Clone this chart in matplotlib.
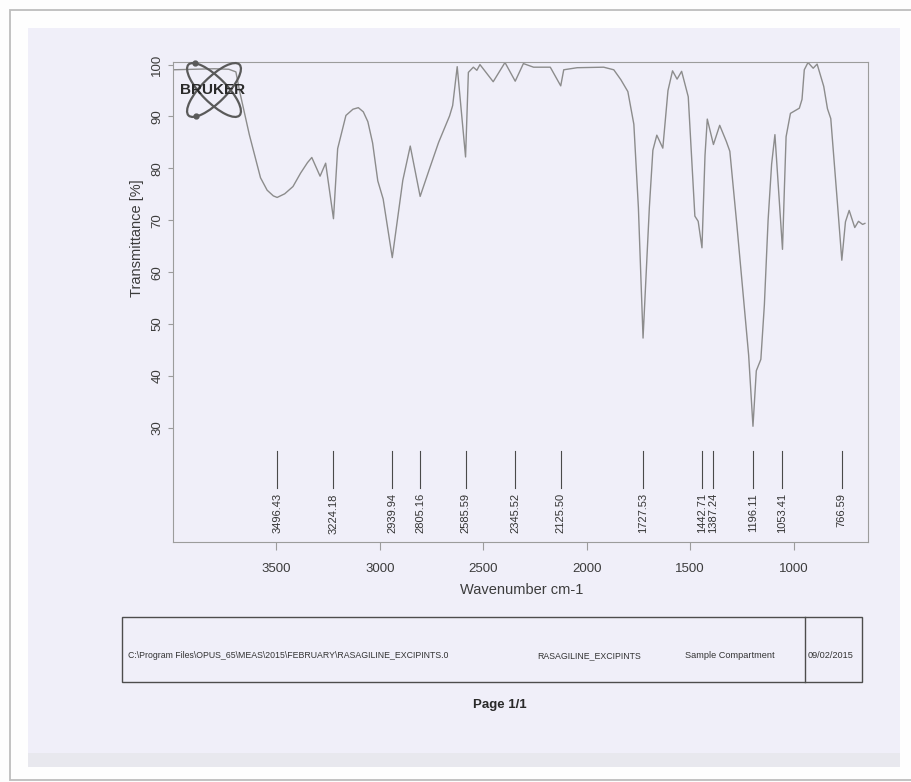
import matplotlib
matplotlib.use("Agg")
import matplotlib.pyplot as plt
from matplotlib.patches import Rectangle, Ellipse
from matplotlib.lines import Line2D

plt.rcParams["font.family"] = ["Liberation Sans", "DejaVu Sans"]

# IR trace: wavenumber (cm-1) and transmittance (%)
wavenumber = [4000, 3900, 3800, 3730, 3696, 3677, 3631, 3577, 3545, 3515,
              3496.43, 3460, 3420, 3383, 3350, 3329, 3289, 3262, 3224.18, 3204,
              3164, 3130, 3104, 3080, 3058, 3035, 3010, 2984, 2939.94, 2889,
              2853, 2805.16, 2761, 2716, 2663, 2648, 2626, 2585.59, 2572, 2548,
              2531, 2516, 2452, 2395, 2345.52, 2306, 2257, 2176, 2125.50, 2111,
              2046, 1918, 1869, 1835, 1801, 1772, 1750, 1727.53, 1697, 1680,
              1661, 1632, 1607, 1585, 1563, 1541, 1509, 1477, 1461, 1442.71,
              1428, 1417, 1387.24, 1357, 1325, 1308, 1274, 1239, 1217, 1196.11,
              1180, 1158, 1141, 1123, 1106, 1090, 1053.41, 1044, 1036, 1015,
              972, 959, 948, 930, 905, 886, 854, 836, 820, 788,
              766.59, 749, 731, 704, 686, 666, 655]
transmittance = [99.0, 99.1, 99.2, 99.1, 98.6, 94.7, 86.5, 78.2, 75.8, 74.7,
                 74.4, 75.1, 76.5, 79.1, 81.1, 82.1, 78.5, 81.0, 70.3, 83.8,
                 90.2, 91.4, 91.7, 90.9, 89.0, 84.9, 77.6, 74.1, 62.8, 77.7,
                 84.3, 74.6, 79.8, 85.0, 90.1, 92.1, 99.6, 82.2, 98.5, 99.5,
                 98.9, 100.0, 96.7, 100.4, 96.8, 100.2, 99.5, 99.5, 95.9, 99.0,
                 99.4, 99.5, 99.0, 97.1, 94.8, 88.5, 72.4, 47.3, 72.5, 83.5,
                 86.4, 83.9, 95.0, 98.8, 97.2, 98.7, 93.8, 70.8, 69.8, 64.7,
                 82.5, 89.5, 84.6, 88.3, 85.2, 83.3, 69.1, 53.7, 44.0, 30.3,
                 41.0, 43.2, 53.7, 70.0, 80.8, 86.5, 64.4, 76.4, 86.1, 90.6,
                 91.6, 93.3, 99.0, 100.4, 99.3, 100.1, 95.8, 91.5, 89.6, 73.4,
                 62.3, 69.7, 71.9, 68.6, 69.8, 69.2, 69.4]

# picked band positions
peak_positions = [3496.43, 3224.18, 2939.94, 2805.16, 2585.59, 2345.52, 2125.50,
                  1727.53, 1442.71, 1387.24, 1196.11, 1053.41, 766.59]

x_ticks = [3500, 3000, 2500, 2000, 1500, 1000]
y_ticks = [30, 40, 50, 60, 70, 80, 90, 100]

file_path = r"C:\Program Files\OPUS_65\MEAS\2015\FEBRUARY\RASAGILINE_EXCIPINTS.0"
sample_name = "RASAGILINE_EXCIPINTS"
compartment = "Sample Compartment"
run_date = "09/02/2015"

W, H = 911, 782
fig = plt.figure(figsize=(W / 100, H / 100), dpi=100)
fig.patch.set_facecolor("#fdfdfd")


def fx(px):
    return px / W


def fy(py):
    return 1 - py / H


def frect(x0, y0, x1, y1, **kw):
    r = Rectangle((fx(x0), fy(y1)), (x1 - x0) / W, (y1 - y0) / H,
                  transform=fig.transFigure, **kw)
    fig.add_artist(r)
    return r


def fline(xs, ys, **kw):
    ln = Line2D([fx(v) for v in xs], [fy(v) for v in ys],
                transform=fig.transFigure, **kw)
    fig.add_artist(ln)


# paper sheet
frect(10, 10, 916, 780, facecolor="#fefefe", edgecolor="#bdbdbd", lw=1.3, zorder=-3)
frect(28, 28, 900, 767, facecolor="#f0eff9", edgecolor="none", zorder=-2)
frect(28, 753, 900, 767, facecolor="#e8e8ee", edgecolor="none", zorder=-2)

# spectrum
ax = fig.add_axes([fx(173), fy(542), 695 / W, 480 / H])
ax.patch.set_visible(False)
ax.plot(wavenumber, transmittance, color="#8c8c8c", lw=1.0)
ax.set_xlim(4000, 640)
ax.set_ylim(8.0, 100.5)

for s in ax.spines.values():
    s.set_color("#9c9c9c")
    s.set_linewidth(0.8)

ax.set_xticks(x_ticks)
ax.set_xticklabels([str(v) for v in x_ticks])
ax.set_yticks(y_ticks)
ax.set_yticklabels([str(v) for v in y_ticks], rotation=90, va="center")
ax.tick_params(direction="out", colors="#9c9c9c", labelcolor="#3c3c3c", labelsize=9.5)
ax.tick_params(axis="x", length=6, pad=9)
ax.tick_params(axis="y", length=3.5, pad=3.5)

for p in peak_positions:
    ax.plot([p, p], [25.5, 18.4], color="#4a4a4a", lw=0.8)
    ax.text(p, 17.4, f"{p:.2f}", rotation=90, ha="center", va="top",
            fontsize=8, color="#333333")

fig.text(fx(137), fy(238), "Transmittance [%]", rotation=90, ha="center", va="center",
         fontsize=10.5, color="#3c3c3c")
fig.text(fx(522), fy(590), "Wavenumber cm-1", ha="center", va="center",
         fontsize=10.5, color="#3c3c3c")

# vendor logo
lg = fig.add_axes([fx(184), fy(120), 60 / W, 60 / H])
lg.set_xlim(-1, 1)
lg.set_ylim(-1, 1)
lg.axis("off")
for ang in (45, -45):
    lg.add_patch(Ellipse((0, 0), 2.4, 0.83, angle=ang, fill=False,
                         edgecolor="#5a5a5a", lw=1.6, clip_on=False))
lg.plot([-0.62, -0.6], [0.9, -0.88], "o", color="#5a5a5a", ms=3.5, clip_on=False)
fig.text(fx(213), fy(90), "BRUKER", ha="center", va="center", fontsize=11,
         fontweight="bold", color="#2a2a2a", zorder=5)

# footer block
frect(122, 617, 862, 682, facecolor="none", edgecolor="#4d4d4d", lw=1.0, zorder=2)
fline([805, 805], [617, 682], color="#4d4d4d", lw=1.0)
fig.text(fx(128), fy(656), file_path, fontsize=6.3, va="center", color="#333333")
fig.text(fx(537), fy(656), sample_name, fontsize=6.3, va="center", color="#333333")
fig.text(fx(685), fy(656), compartment, fontsize=6.6, va="center", color="#333333")
fig.text(fx(808), fy(656), run_date, fontsize=6.6, va="center", color="#333333")
fig.text(fx(500), fy(705), "Page 1/1", ha="center", va="center", fontsize=9.5,
         fontweight="bold", color="#2a2a2a")

fig.savefig("out.png", dpi=100, facecolor=fig.get_facecolor())
